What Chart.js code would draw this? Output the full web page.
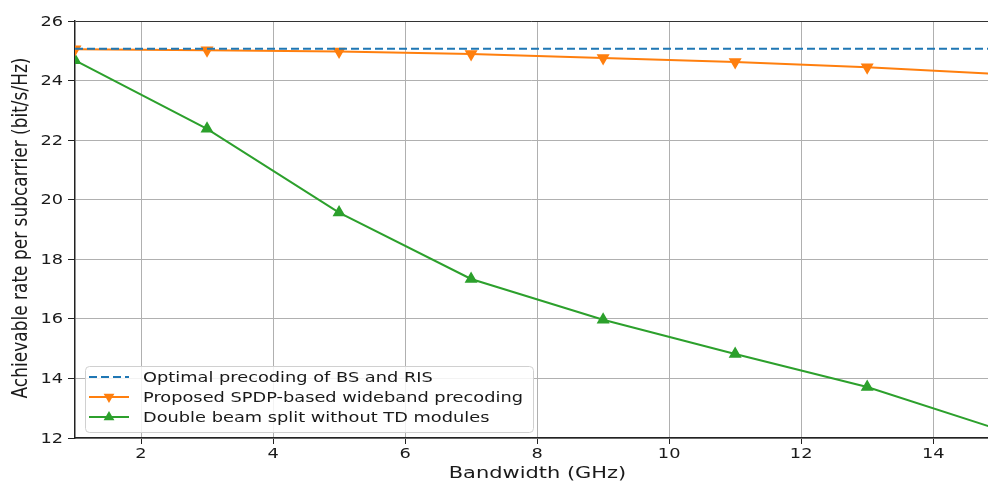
<!DOCTYPE html>
<html>
<head>
<meta charset="utf-8">
<script src="https://cdn.jsdelivr.net/npm/chart.js@4"></script>
<style>
  body { margin: 0; background: #fff; }
  #wrap { width: 988px; height: 482px; }
</style>
</head>
<body>
<div id="wrap"><canvas id="chart" width="988" height="482"></canvas></div>
<script>
// values
const bandwidth = [1, 3, 5, 7, 9, 11, 13, 15];
const optimal = [25.07, 25.07, 25.07, 25.07, 25.07, 25.07, 25.07, 25.07];
const proposed = [25.05, 25.02, 24.98, 24.89, 24.76, 24.62, 24.45, 24.22];
const doubleSplit = [24.68, 22.38, 19.57, 17.34, 15.97, 14.82, 13.71, 12.28];
const xTicks = [2, 4, 6, 8, 10, 12, 14];
const yTicks = [12, 14, 16, 18, 20, 22, 24, 26];

const labels = [
    'Optimal precoding of BS and RIS',
    'Proposed SPDP-based wideband precoding',
    'Double beam split without TD modules'
];
const xTitle = 'Bandwidth (GHz)';
const yTitle = 'Achievable rate per subcarrier (bit/s/Hz)';

function pts(ys) {
    return bandwidth.map((x, i) => ({x: x, y: ys[i]}));
}

const font = "'DejaVu Sans', sans-serif";
const textColor = '#1a1a1a';
const stretch = 1.27; // the original picture is widened a bit

// text drawn a little wider than tall, like the picture
function wideText(c, txt, x, y, size, align) {
    c.save();
    c.translate(x, y);
    c.scale(stretch, 1);
    c.font = size + 'px ' + font;
    c.fillStyle = textColor;
    c.textAlign = align;
    c.textBaseline = 'middle';
    c.fillText(txt, 0, 0);
    c.restore();
}

const textLayer = {
    id: 'textLayer',
    afterDraw(chart) {
        const c = chart.ctx;
        const a = chart.chartArea;
        const xs = chart.scales.x, ys = chart.scales.y;

        // tick labels
        xs.ticks.forEach(t => wideText(c, String(t.value), xs.getPixelForValue(t.value), a.bottom + 16, 14, 'center'));
        ys.ticks.forEach(t => wideText(c, String(t.value), a.left - 12, ys.getPixelForValue(t.value) + 1, 14, 'right'));

        // axis titles
        wideText(c, xTitle, (a.left + a.right) / 2 + 6, a.bottom + 36, 16.5, 'center');
        c.save();
        c.translate(21, 228);
        c.rotate(-Math.PI / 2);
        c.scale(1, stretch);
        c.font = '17px ' + font;
        c.fillStyle = textColor;
        c.textAlign = 'center';
        c.textBaseline = 'middle';
        c.fillText(yTitle, 0, 0);
        c.restore();

        // legend inside the plot, bottom left
        const x0 = a.left + 10, y0 = a.bottom - 72, w = 448, h = 66;
        c.save();
        c.fillStyle = 'rgba(255,255,255,0.85)';
        c.strokeStyle = '#d0d0d0';
        c.lineWidth = 1;
        c.beginPath();
        c.roundRect(x0 + 0.5, y0 + 0.5, w, h, 4);
        c.fill();
        c.stroke();
        chart.data.datasets.forEach((ds, i) => {
            const y = y0 + 11 + i * 20;
            c.strokeStyle = ds.borderColor;
            c.lineWidth = 2;
            c.setLineDash(ds.borderDash || []);
            c.beginPath();
            c.moveTo(x0 + 4, y);
            c.lineTo(x0 + 44, y);
            c.stroke();
            c.setLineDash([]);
            if (ds.pointRadius > 0) {
                const r = 6, cx = x0 + 24;
                const dir = ds.pointRotation === 180 ? -1 : 1;
                c.fillStyle = ds.borderColor;
                c.beginPath();
                c.moveTo(cx, y - dir * r);
                c.lineTo(cx - r * 0.9, y + dir * r * 0.55);
                c.lineTo(cx + r * 0.9, y + dir * r * 0.55);
                c.closePath();
                c.fill();
            }
            wideText(c, ds.label, x0 + 58, y + 1, 14, 'left');
        });
        c.restore();
    }
};

const ctx = document.getElementById('chart').getContext('2d');
const chart = new Chart(ctx, {
    type: 'line',
    data: {
        datasets: [{
            label: labels[0],
            data: pts(optimal),
            borderColor: '#1f77b4',
            borderWidth: 2,
            borderDash: [8, 4],
            pointRadius: 0
        }, {
            label: labels[1],
            data: pts(proposed),
            borderColor: '#ff7f0e',
            backgroundColor: '#ff7f0e',
            borderWidth: 2,
            pointStyle: 'triangle',
            pointRotation: 180,
            pointRadius: 5.5
        }, {
            label: labels[2],
            data: pts(doubleSplit),
            borderColor: '#2ca02c',
            backgroundColor: '#2ca02c',
            borderWidth: 2,
            pointStyle: 'triangle',
            pointRadius: 5.5
        }]
    },
    options: {
        responsive: false,
        animation: false,
        layout: { autoPadding: false, padding: { top: 21, right: 0, left: 0, bottom: 0 } },
        plugins: {
            legend: { display: false },
            tooltip: { enabled: false }
        },
        scales: {
            x: {
                type: 'linear',
                min: 1,
                max: 14.83,
                afterBuildTicks: s => { s.ticks = xTicks.map(v => ({value: v})); },
                afterFit: s => { s.height = 44; s.paddingLeft = 0; s.paddingRight = 0; },
                grid: { color: '#b0b0b0', tickColor: '#222', tickLength: 6 },
                border: { color: '#222', width: 1.5 },
                ticks: { display: false }
            },
            y: {
                min: 12,
                max: 26,
                afterBuildTicks: s => { s.ticks = yTicks.map(v => ({value: v})); },
                afterFit: s => { s.width = 75; s.paddingTop = 0; s.paddingBottom = 0; },
                grid: {
                    color: c => c.tick && c.tick.value === 26 ? '#333' : '#b0b0b0',
                    tickColor: '#222',
                    tickLength: 7
                },
                border: { color: '#222', width: 1.5 },
                ticks: { display: false }
            }
        }
    },
    plugins: [textLayer]
});
</script>
</body>
</html>
